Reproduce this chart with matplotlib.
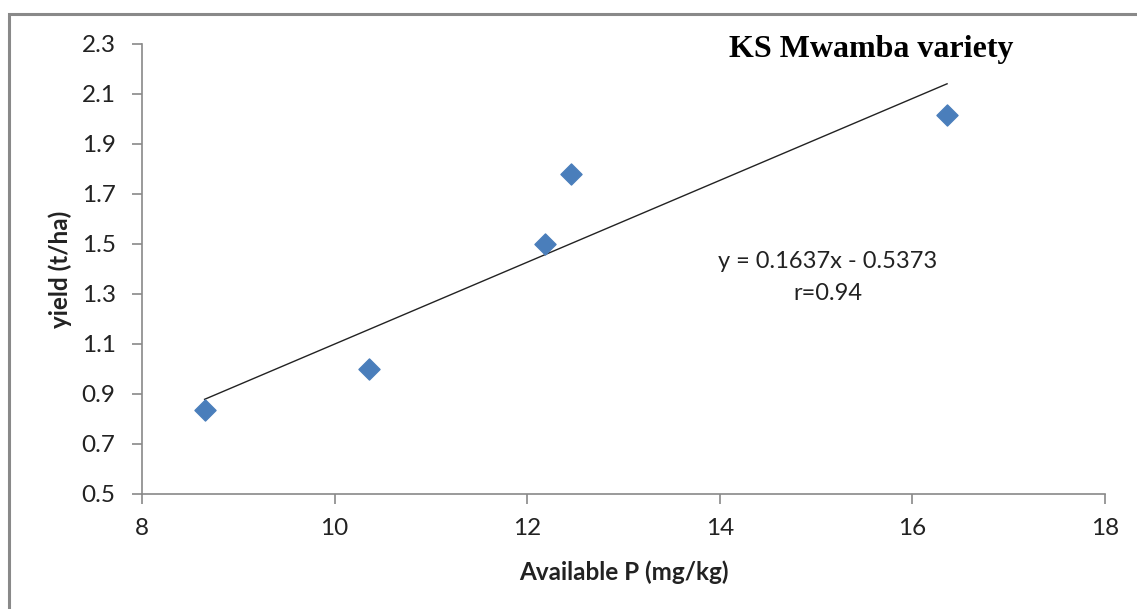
import matplotlib
matplotlib.use("Agg")
import matplotlib.pyplot as plt
from matplotlib.patches import Rectangle
import numpy as np

# Data
available_p = [8.65, 10.36, 12.18, 12.45, 16.36]
yield_tha = [0.836, 1.00, 1.50, 1.78, 2.015]
slope = 0.1637
intercept = -0.5373
x_ticks = [8, 10, 12, 14, 16, 18]
y_ticks = [0.5, 0.7, 0.9, 1.1, 1.3, 1.5, 1.7, 1.9, 2.1, 2.3]
title = "KS Mwamba variety"
equation = "y = 0.1637x - 0.5373"
r_text = "r=0.94"

W, H = 1137, 609
fig = plt.figure(figsize=(W / 100, H / 100), dpi=100)
ax = fig.add_axes([142 / W, 1 - 494 / H, (1105 - 142) / W, (494 - 44) / H])

sans = ["Lato", "DejaVu Sans"]
grey = "#898989"

ax.scatter(available_p, yield_tha, marker="D", s=115, color="#4A7EBB",
           edgecolors="#4A7EBB", zorder=3)

xs = np.array([min(available_p), max(available_p)])
ax.plot(xs, slope * xs + intercept, color="#222222", lw=1.0, zorder=2)

ax.set_xlim(8, 18)
ax.set_ylim(0.5, 2.3)
ax.set_xticks(x_ticks)
ax.set_yticks(y_ticks)
ax.set_xticklabels([f"{t}" for t in x_ticks], family=sans, fontsize=17.5, color="#222222")
ax.set_yticklabels([f"{t:.1f}" for t in y_ticks], family=sans, fontsize=17.5, color="#222222")
for s in ["top", "right"]:
    ax.spines[s].set_visible(False)
for s in ["left", "bottom"]:
    ax.spines[s].set_color(grey)
    ax.spines[s].set_linewidth(1.2)
ax.tick_params(axis="both", direction="out", length=7, width=1.2, color=grey)
ax.tick_params(axis="x", pad=10)
ax.tick_params(axis="y", pad=12)

ax.set_xlabel("Available P (mg/kg)", family=sans, fontsize=17.5, fontweight="bold",
              color="#222222", labelpad=16)
ax.set_ylabel("yield (t/ha)", family=sans, fontsize=17.5, fontweight="bold",
              color="#222222", labelpad=7)

fig.text(871 / W, 1 - 50 / H, title, family=["Liberation Serif"], fontsize=23,
         fontweight="bold", ha="center", va="center", color="black")
fig.text(828 / W, 1 - 261 / H, equation, family=sans, fontsize=17,
         ha="center", va="center", color="#222222")
fig.text(828 / W, 1 - 293 / H, r_text, family=sans, fontsize=17,
         ha="center", va="center", color="#222222")

fig.patches.append(Rectangle((9 / W, -0.2), 1.2, 1.2 - 14 / H,
                             transform=fig.transFigure, fill=False,
                             edgecolor=grey, lw=2.2))

fig.savefig("out.png", dpi=100)
